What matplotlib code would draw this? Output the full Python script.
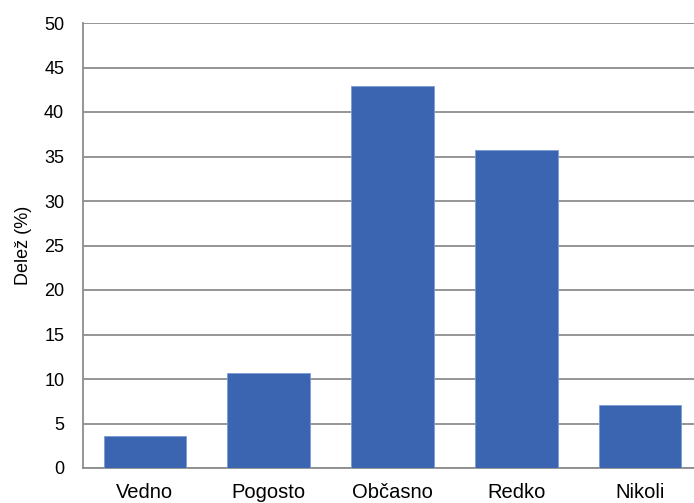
import matplotlib.pyplot as plt
import numpy as np

plt.rcParams['font.family'] = ['Liberation Sans', 'DejaVu Sans']

categories = ['Vedno', 'Pogosto', 'Občasno', 'Redko', 'Nikoli']
shares = [3.6, 10.7, 42.9, 35.7, 7.1]
yticks = [0, 5, 10, 15, 20, 25, 30, 35, 40, 45, 50]

fig = plt.figure(figsize=(6.94, 5.03), dpi=100)
ax = fig.add_axes([83 / 694, 35 / 503, 611 / 694, 445 / 503])

x = np.arange(len(categories))
ax.bar(x, shares, width=0.666, color='#3b64b1', edgecolor='#7b9bd6',
       linewidth=0.6, zorder=3)

ax.set_ylim(0, 50)
ax.set_xlim(-0.5, 4.435)
ax.set_yticks(yticks)
ax.set_xticks(x)
ax.set_xticklabels(categories)
ax.yaxis.grid(True, color='#8c8c8c', linewidth=1.3, zorder=0)
ax.tick_params(axis='both', length=0, colors='black')
ax.tick_params(axis='y', pad=13.5, labelsize=13)
ax.tick_params(axis='x', pad=11, labelsize=14.5)

for side in ('top', 'right'):
    ax.spines[side].set_visible(False)
for side in ('left', 'bottom'):
    ax.spines[side].set_color('#8c8c8c')
    ax.spines[side].set_linewidth(1.3)

ax.set_ylabel('Delež (%)', fontsize=13, labelpad=9)

fig.savefig('out.png', dpi=100)
